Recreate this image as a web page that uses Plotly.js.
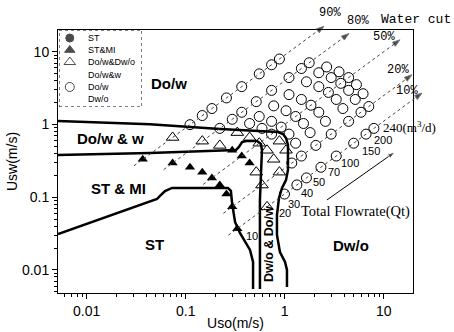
<!DOCTYPE html>
<html><head><meta charset="utf-8">
<script src="https://cdn.plot.ly/plotly-3.0.1.min.js"></script>
<style>body{margin:0;background:#fff}#c{width:454px;height:332px}</style>
</head><body><div id="c"></div>
<script>
// ---------- data (Uso, Usw in m/s) ----------
// ST & MI (filled triangles)
const stmiUso = [0.332, 0.295, 0.258, 0.221, 0.184, 0.147, 0.1105, 0.0737, 0.0368, 0.442, 0.368, 0.295];
const stmiUsw = [0.0368, 0.0737, 0.1105, 0.147, 0.184, 0.221, 0.258, 0.295, 0.332, 0.295, 0.368, 0.442];
// Do/w&Dw/o , Do/w&w (open triangles)
const triUso = [0.663, 0.590, 0.516, 0.221, 0.147, 0.0737, 0.884, 0.774, 0.663, 0.553, 0.442, 0.332, 1.032, 0.884];
const triUsw = [0.0737, 0.147, 0.221, 0.516, 0.590, 0.663, 0.221, 0.332, 0.442, 0.553, 0.663, 0.774, 0.442, 0.590];
// Do/w , Dw/o (open circles)
const circUso = [
  0.995, 1.327, 1.658, 2.321, 3.316, 4.973, 6.631, 7.958,
  1.179, 1.474, 2.063, 2.947, 4.421, 5.894, 7.074,
  1.289, 1.805, 2.579, 3.868, 5.158, 6.189,
  1.105, 1.547, 2.210, 3.316, 4.421, 5.305,
  0.737, 0.921, 1.289, 1.842, 2.763, 3.684, 4.421,
  0.590, 0.737, 1.032, 1.474, 2.210, 2.947, 3.537,
  0.442, 0.553, 0.774, 1.105, 1.658, 2.210, 2.653,
  0.221, 0.295, 0.368, 0.516, 0.737, 1.105, 1.474, 1.768,
  0.1105, 0.147, 0.184, 0.258, 0.368, 0.553, 0.737, 0.884];
const circUsw = [
  0.1105, 0.1474, 0.1842, 0.258, 0.368, 0.553, 0.737, 0.884,
  0.295, 0.368, 0.516, 0.737, 1.105, 1.474, 1.768,
  0.553, 0.774, 1.105, 1.658, 2.210, 2.653,
  0.737, 1.032, 1.474, 2.210, 2.947, 3.537,
  0.737, 0.921, 1.289, 1.842, 2.763, 3.684, 4.421,
  0.884, 1.105, 1.547, 2.210, 3.316, 4.421, 5.305,
  1.032, 1.289, 1.805, 2.579, 3.868, 5.158, 6.189,
  0.884, 1.179, 1.474, 2.063, 2.947, 4.421, 5.894, 7.074,
  0.995, 1.327, 1.658, 2.321, 3.316, 4.973, 6.631, 7.958];

// flow-pattern boundaries
const b1Uso = [0.00513, 0.0435, 0.222, 0.709, 0.855, 0.962, 1.03, 1.079, 1.079, 1.03, 0.94, 0.875, 0.835, 0.835, 0.895, 1.007, 1.054, 1.054];
const b1Usw = [1.12, 1.01, 0.867, 0.815, 0.789, 0.740, 0.652, 0.522, 0.237, 0.172, 0.134, 0.0975, 0.0569, 0.0302, 0.0176, 0.0129, 0.00998, 0.00582];
const b2Uso = [0.00513, 0.0435, 0.322, 0.345, 0.371, 0.406, 0.525, 0.575, 0.589, 0.575, 0.562, 0.562, 0.562];
const b2Usw = [0.381, 0.405, 0.446, 0.491, 0.574, 0.593, 0.593, 0.54, 0.446, 0.202, 0.0916, 0.0258, 0.00546];
const b3Uso = [0.00513, 0.0513, 0.055, 0.0618, 0.0728, 0.267, 0.286, 0.294, 0.315, 0.353, 0.446, 0.479, 0.479];
const b3Usw = [0.0312, 0.0944, 0.104, 0.1217, 0.134, 0.134, 0.122, 0.0832, 0.0456, 0.0322, 0.0188, 0.0129, 0.00547];

// water-cut guide lines (start, arrow tip)
const wcLabels = ['90%', '80%', '50%', '20%', '10%'];
const wcStartUso = [0.03, 0.06, 0.15, 0.24, 0.27];
const wcStartUsw = [0.27, 0.24, 0.15, 0.06, 0.03];
const wcEndUso = [2.49, 4.46, 14.6, 19.3, 24.4];
const wcEndUsw = [22.4, 17.8, 14.6, 4.83, 2.71];

// total flowrate arrow
const qtArrowUso = [2.67, 13.0];
const qtArrowUsw = [0.0916, 0.419];

// flowrate labels (m3/d)
const qLabels = ['10', '20', '30', '40', '50', '70', '100', '150', '200'];

const tickVals = [0.01, 0.1, 1, 10];
const tickText = ['0.01', '0.1', '1', '10'];

const legendNames = ['ST', 'ST&MI', 'Do/w&Dw/o', 'Do/w&w', 'Do/w', 'Dw/o'];

// ---------- helpers ----------
function minorTicks(lo, hi) {
  const out = [];
  for (let d = -3; d <= 2; d++) for (let k = 2; k <= 9; k++) {
    const v = k * Math.pow(10, d);
    if (v > lo && v < hi) out.push(v);
  }
  return out;
}
// pixel -> paper (margins l=58,r=5,t=5,b=39)
function P(px, py) { return { x: (px - 58) / 391, y: (293 - py) / 288 }; }
function label(s, px, py, font, extra) {
  const p = P(px, py);
  return Object.assign({ text: s, x: p.x, y: p.y, xref: 'paper', yref: 'paper', showarrow: false,
    font: font, xanchor: 'center', yanchor: 'middle' }, extra || {});
}
const SANS = 'Liberation Sans, Arial, sans-serif';
const SERIF = 'Liberation Serif, Times New Roman, serif';
const MONO = 'Liberation Mono, Courier New, monospace';

// ---------- traces ----------
const traces = [];
traces.push({ x: b1Uso, y: b1Usw, mode: 'lines', line: { color: '#000', width: 2.5 }, hoverinfo: 'skip', name: 'boundary 1' });
traces.push({ x: b2Uso, y: b2Usw, mode: 'lines', line: { color: '#000', width: 2.5 }, hoverinfo: 'skip', name: 'boundary 2' });
traces.push({ x: b3Uso, y: b3Usw, mode: 'lines', line: { color: '#000', width: 2.5 }, hoverinfo: 'skip', name: 'boundary 3' });

traces.push({ x: circUso, y: circUsw, mode: 'markers', name: 'Do/w, Dw/o',
  marker: { symbol: 'circle-open', size: 10, color: '#000', line: { width: 1 } } });
traces.push({ x: triUso, y: triUsw, mode: 'markers', name: 'Do/w&Dw/o, Do/w&w',
  marker: { symbol: 'triangle-up-open', size: 11, color: '#000', line: { width: 1 } } });
traces.push({ x: stmiUso, y: stmiUsw, mode: 'markers', name: 'ST&MI',
  marker: { symbol: 'triangle-up', size: 9, color: '#000' } });

traces.push({ x: qtArrowUso, y: qtArrowUsw, mode: 'lines+markers', hoverinfo: 'skip', name: 'Qt',
  line: { color: '#000', width: 1 },
  marker: { symbol: ['circle', 'arrow'], size: [0, 8], angleref: 'previous', color: '#000' } });

for (let i = 0; i < wcLabels.length; i++) {
  traces.push({ x: [wcStartUso[i], wcEndUso[i]], y: [wcStartUsw[i], wcEndUsw[i]], xaxis: 'x2', yaxis: 'y2',
    mode: 'lines+markers', hoverinfo: 'skip', name: wcLabels[i],
    line: { color: '#444', width: 1, dash: '3px,3px' },
    marker: { symbol: ['circle', 'arrow'], size: [0, 8], angleref: 'previous', color: '#000' } });
}

// legend symbols (own small axes over the legend box)
const legSymY = [0.896, 0.740, 0.584, 0.260];
const legSym = ['circle', 'triangle-up', 'triangle-up-open', 'circle-open'];
traces.push({ x: [0.13, 0.13, 0.13, 0.13], y: legSymY, xaxis: 'x3', yaxis: 'y3', mode: 'markers', hoverinfo: 'skip',
  name: 'legend', marker: { symbol: legSym, size: [8, 9, 10, 9], color: '#000', line: { width: 1, color: '#000' } } });

// ---------- annotations ----------
const ann = [];
const B = { family: SANS, size: 15, color: '#000', weight: 'bold' };
ann.push(label('<b>Do/w</b>', 169, 83, B));
ann.push(label('<b>Do/w &amp; w</b>', 110, 138, B));
ann.push(label('<b>ST &amp; MI</b>', 118, 188, B));
ann.push(label('<b>ST</b>', 154, 244, B));
ann.push(label('<b>Dw/o</b>', 351, 245, B));
ann.push(label('<b>Dw/o &amp; Do/w</b>', 269, 244, { family: SANS, size: 12.5, color: '#000' }, { textangle: -90 }));

const M = { family: MONO, size: 12, color: '#000' };
ann.push(label('90%', 330, 13, M));
ann.push(label('80%', 358, 21, M));
ann.push(label('Water cut', 416, 19, { family: MONO, size: 13, color: '#000' }));
ann.push(label('50%', 384, 37, M));
ann.push(label('20%', 398, 70, M));
ann.push(label('10%', 407, 91, M));

ann.push(label('240(m<sup>3</sup>/d)', 381, 127, { family: SERIF, size: 13, color: '#000' }, { xanchor: 'left' }));
const qPos = [[252, 236], [285, 213], [294, 204], [307, 193], [319, 182], [334, 172], [350, 163], [371, 151], [383, 140]];
const S = { family: SANS, size: 11, color: '#000' };
for (let i = 0; i < qLabels.length; i++) ann.push(label(qLabels[i], qPos[i][0], qPos[i][1], S));
ann.push(label('Total Flowrate(Qt)', 355, 211, { family: SERIF, size: 14.5, color: '#000' }));

// legend texts
const legTextY = [0.896, 0.740, 0.584, 0.416, 0.260, 0.104];
for (let i = 0; i < legendNames.length; i++) {
  ann.push({ text: legendNames[i], x: 0.33, y: legTextY[i], xref: 'x3', yref: 'y3', showarrow: false,
    xanchor: 'left', yanchor: 'middle', font: { family: SANS, size: 9, color: '#000' } });
}

const axBase = {
  type: 'log', showgrid: false, zeroline: false, showline: true, mirror: true,
  linecolor: '#000', linewidth: 1, ticks: 'outside', ticklen: 5, tickwidth: 1, tickcolor: '#000',
  tickvals: tickVals, ticktext: tickText, tickfont: { family: SANS, size: 14, color: '#000' }
};

const layout = {
  width: 454, height: 332,
  margin: { l: 58, r: 5, t: 5, b: 39 },
  paper_bgcolor: '#fff', plot_bgcolor: 'rgba(0,0,0,0)',
  showlegend: false,
  font: { family: SANS, color: '#000' },
  xaxis: Object.assign({}, axBase, {
    range: [-2.29, 1.2959], domain: [0, 0.90793], anchor: 'y',
    minor: { ticks: 'outside', ticklen: 3, tickcolor: '#000', tickvals: minorTicks(0.0051, 19.7), showgrid: false },
    title: { text: 'Uso(m/s)', font: { family: SANS, size: 14, color: '#000' }, standoff: 0 }
  }),
  yaxis: Object.assign({}, axBase, {
    range: [-2.318, 1.30], domain: [0, 0.91319], anchor: 'x',
    minor: { ticks: 'outside', ticklen: 3, tickcolor: '#000', tickvals: minorTicks(0.0048, 19.9), showgrid: false },
    title: { text: 'Usw(m/s)', font: { family: SANS, size: 14, color: '#000' }, standoff: 1 }
  }),
  xaxis2: { type: 'log', range: [-2.29, 1.6594], domain: [0, 1], anchor: 'y2', visible: false },
  yaxis2: { type: 'log', range: [-2.318, 1.6435], domain: [0, 1], anchor: 'x2', visible: false },
  xaxis3: { range: [0, 1], domain: [0.00256, 0.2148], anchor: 'y3', visible: false },
  yaxis3: { range: [0, 1], domain: [0.6458, 0.9132], anchor: 'x3', visible: false },
  shapes: [{ type: 'rect', xref: 'x3', yref: 'y3', x0: 0, x1: 1, y0: 0, y1: 1,
    line: { color: '#000', width: 1, dash: 'dot' }, fillcolor: 'rgba(255,255,255,1)', layer: 'below' }],
  annotations: ann
};

Plotly.newPlot('c', traces, layout, { staticPlot: true, displayModeBar: false });
</script>
</body></html>
